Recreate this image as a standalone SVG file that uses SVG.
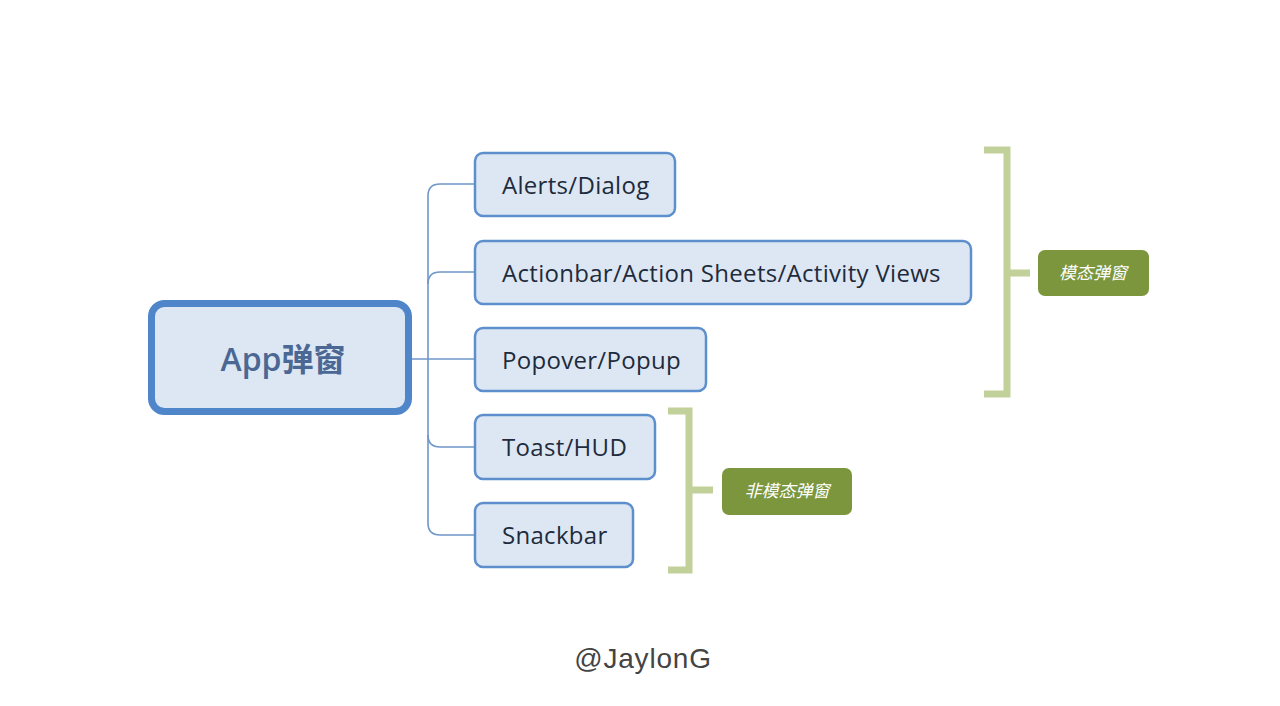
<svg xmlns="http://www.w3.org/2000/svg" width="1280" height="706" viewBox="0 0 1280 706">
<style>
.box{fill:#dde7f3;stroke:#5d8fcd;stroke-width:2.5}
.root{fill:#dde7f3;stroke:#4f86c9;stroke-width:7}
.lbl{font-family:"Open Sans","Noto Sans",sans-serif;font-size:24px;letter-spacing:0.3px;fill:#1e2b3c}
.conn{fill:none;stroke:#6f97c8;stroke-width:1.6}
.br{fill:none;stroke:#c2d09a;stroke-width:7}
.tag{fill:#7b963d}
.tagt{font-family:"Noto Sans CJK SC",sans-serif;font-size:17px;font-style:italic;fill:#ffffff;text-anchor:middle}
</style>
<rect width="1280" height="706" fill="#ffffff"/>
<g id="connectors">
<path class="conn" d="M412 359 H474"/>
<path class="conn" d="M474 184 H440 Q428 184 428 196 V523 Q428 535 440 535 H474"/>
<path class="conn" d="M474 272 H440 Q428 272 428 284"/>
<path class="conn" d="M428 435 Q428 447 440 447 H474"/>
</g>
<g id="root">
<rect class="root" x="151.5" y="303.5" width="257" height="108" rx="13"/>
<text x="283" y="371" text-anchor="middle" font-family="'Open Sans','Noto Sans CJK SC',sans-serif" font-size="32" font-weight="600" fill="#4b6793">App弹窗</text>
</g>
<g id="n-alerts">
<rect class="box" x="475" y="153" width="200" height="63" rx="8"/>
<text class="lbl" x="502" y="194">Alerts/Dialog</text>
</g>
<g id="n-actionbar">
<rect class="box" x="475" y="241" width="496" height="63" rx="8"/>
<text class="lbl" x="502" y="282">Actionbar/Action Sheets/Activity Views</text>
</g>
<g id="n-popover">
<rect class="box" x="475" y="328" width="231" height="63" rx="8"/>
<text class="lbl" x="502" y="369">Popover/Popup</text>
</g>
<g id="n-toast">
<rect class="box" x="475" y="415" width="180" height="64" rx="8"/>
<text class="lbl" x="502" y="456">Toast/HUD</text>
</g>
<g id="n-snackbar">
<rect class="box" x="475" y="503" width="158" height="64" rx="8"/>
<text class="lbl" x="502" y="544">Snackbar</text>
</g>
<g id="bracket-modal">
<path class="br" d="M984 150 H1007 V394 H984 M1007 273 H1030"/>
<rect class="tag" x="1038" y="250" width="111" height="46" rx="7"/>
<text class="tagt" x="1093" y="279">模态弹窗</text>
</g>
<g id="bracket-nonmodal">
<path class="br" d="M668 411 H689 V570 H668 M689 490 H713"/>
<rect class="tag" x="722" y="468" width="130" height="47" rx="7"/>
<text class="tagt" x="787" y="497">非模态弹窗</text>
</g>
<text x="643" y="668" text-anchor="middle" font-family="'Liberation Sans',Arial,sans-serif" font-size="28" letter-spacing="0.8" fill="#444444">@JaylonG</text>
</svg>
